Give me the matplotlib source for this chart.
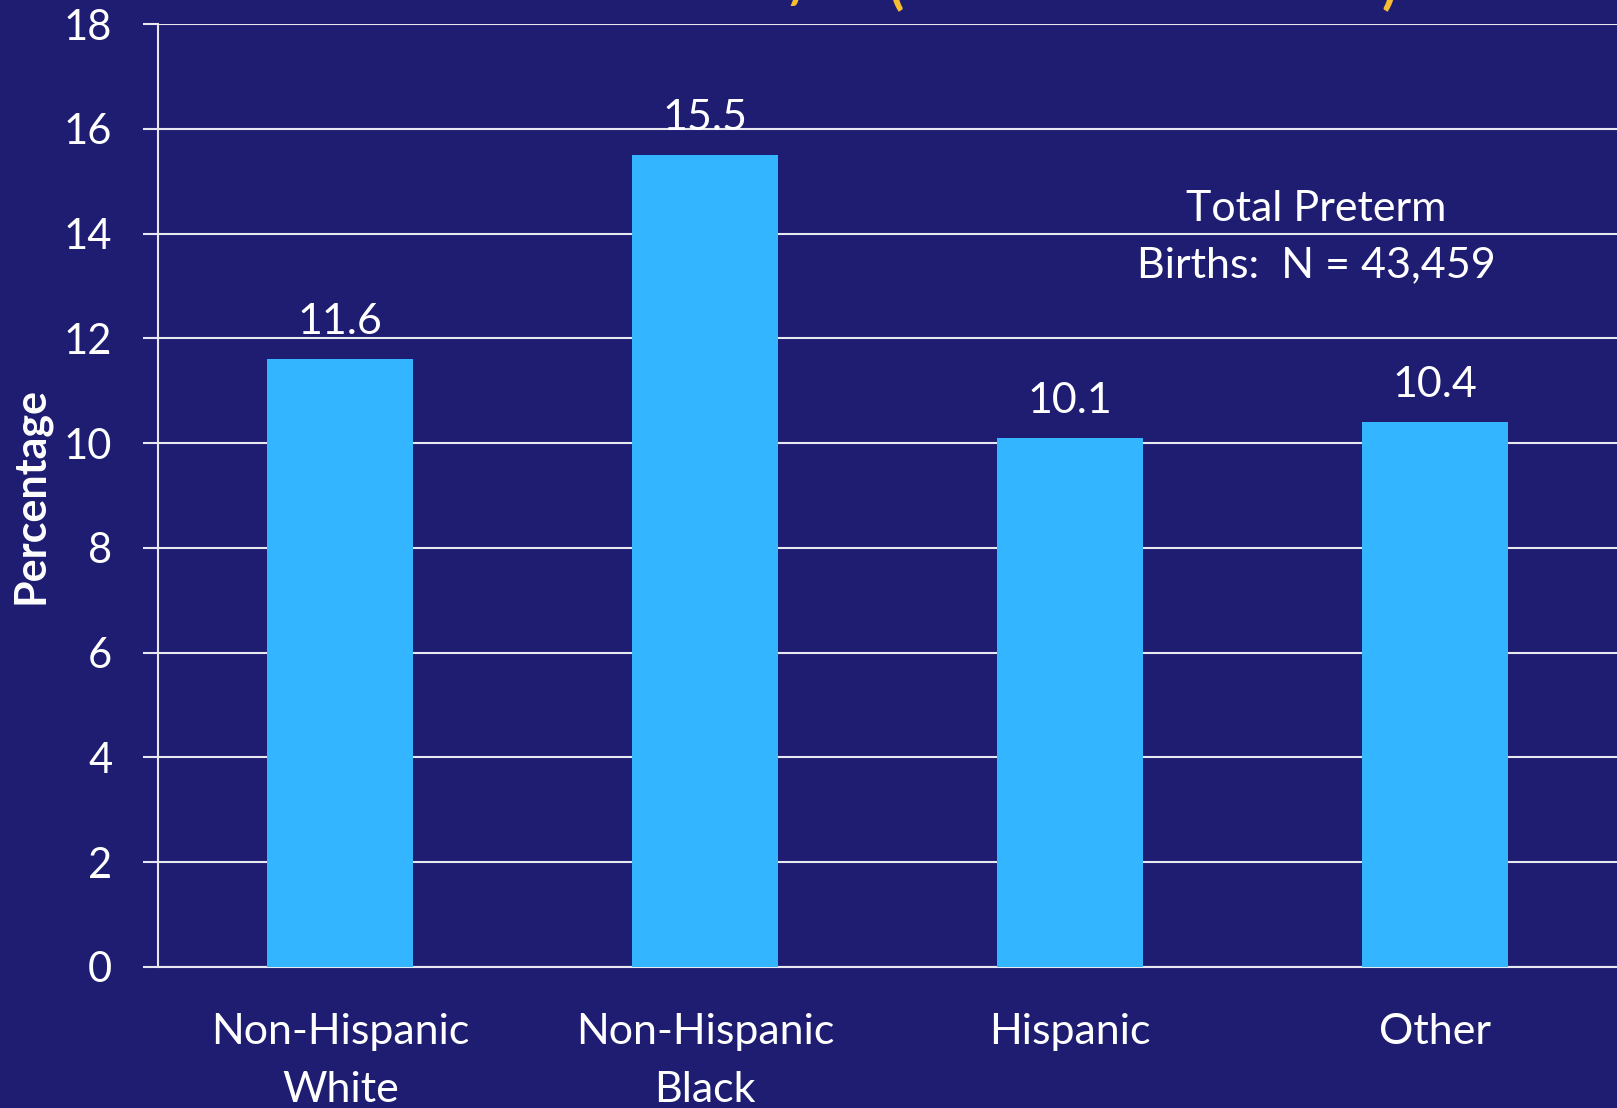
import matplotlib
matplotlib.use('Agg')
import matplotlib.pyplot as plt
import numpy as np

# preterm birth percentages by race/ethnicity
categories = ['Non-Hispanic\nWhite', 'Non-Hispanic\nBlack', 'Hispanic', 'Other']
values = [11.6, 15.5, 10.1, 10.4]
value_labels = ['11.6', '15.5', '10.1', '10.4']
yticks = [0, 2, 4, 6, 8, 10, 12, 14, 16, 18]
note = 'Total Preterm\nBirths:  N = 43,459'

BG = '#1E1D72'
BAR = '#33B5FF'
FG = 'white'

plt.rcParams['font.family'] = ['Lato', 'DejaVu Sans']

fig = plt.figure(figsize=(16.17, 11.08), dpi=100, facecolor=BG)
ax = fig.add_axes([0.0977, 0.1273, 0.9023, 0.851])
ax.set_facecolor(BG)

x = np.arange(len(categories))
ax.set_axisbelow(True)
ax.yaxis.grid(True, color='#E8E8F0', linewidth=1.5)
rects = ax.bar(x, values, width=0.4, color=BAR, zorder=3)
for r, lab in zip(rects, value_labels):
    ax.annotate(lab, (r.get_x() + r.get_width() / 2, r.get_height()),
                xytext=(0, 13), textcoords='offset points',
                ha='center', va='bottom', color=FG, fontsize=31)

ax.set_xlim(-0.5, 3.5)
ax.set_ylim(0, 18)
ax.set_yticks(yticks)
ax.set_xticks(x, categories)

for s in ['top', 'right']:
    ax.spines[s].set_visible(False)
ax.spines['left'].set_color('#E8E8F0')
ax.spines['left'].set_linewidth(1.5)
ax.spines['bottom'].set_color('#E8E8F0')
ax.spines['bottom'].set_linewidth(1.5)

ax.tick_params(axis='y', colors='#E8E8F0', length=11, width=1.5, pad=22,
               labelsize=30, labelcolor=FG)
ax.tick_params(axis='x', length=0, pad=33, labelsize=31, labelcolor=FG)
for t in ax.get_xticklabels():
    t.set_linespacing(1.66)
    t.set_verticalalignment('top')

ax.text(2.675, 13.93, note, ha='center', va='center', color=FG,
        fontsize=31, linespacing=1.6)

fig.text(31 / 1617, 1 - 495 / 1108, 'Percentage', rotation=90, ha='center',
         va='center', color=FG, fontsize=31, fontweight='bold')

# bottom edges of the heading glyphs that run off the top of the slide
for gx, g in [(801, '/'), (897, '('), (1389, ')')]:
    fig.text(gx / 1617, 1 - 12 / 1108, g, ha='center', va='bottom',
             color='#F6BC32', fontsize=40, fontweight='bold')

fig.savefig('out.png', dpi=100, facecolor=BG)
